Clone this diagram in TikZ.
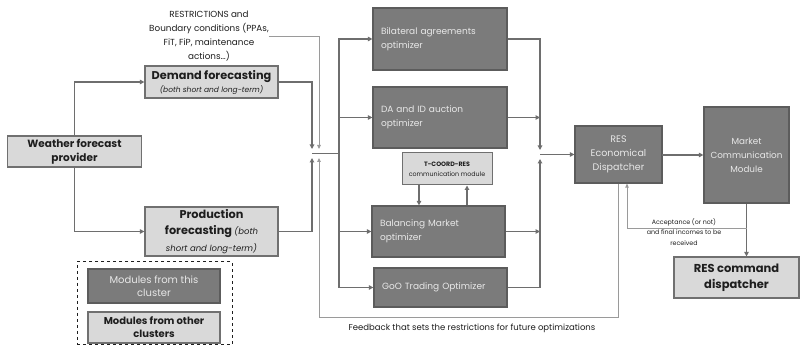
\documentclass[tikz,border=0pt]{standalone}
\usepackage{fontspec}
\setmainfont{Poppins}
\usetikzlibrary{arrows.meta}
\definecolor{darkbox}{HTML}{7B7B7B}
\definecolor{darkedge}{HTML}{5C5C5C}
\definecolor{lightbox}{HTML}{D9D9D9}
\definecolor{lightedge}{HTML}{707070}
\definecolor{boxtext}{HTML}{E8E8E8}
\definecolor{linecol}{HTML}{6E6E6E}
\definecolor{thincol}{HTML}{9A9A9A}
\definecolor{inktext}{HTML}{1E1E1E}
\tikzset{
  darkmod/.style={draw=darkedge, line width=1.2pt, fill=darkbox, text=boxtext, inner sep=0pt},
  lightmod/.style={draw=lightedge, line width=1.2pt, fill=lightbox, text=inktext, inner sep=0pt, align=center},
  conn/.style={draw=linecol, line width=1.8pt},
  thinconn/.style={draw=thincol, line width=0.9pt},
  tip/.style={-{Triangle[length=4.5pt,width=4.5pt]}},
  thintip/.style={-{Triangle[length=4pt,width=3.5pt]}},
  plain/.style={inner sep=0pt, align=center, text=inktext},
}
\begin{document}
\begin{tikzpicture}[x=1pt,y=-1pt]
\useasboundingbox[fill=white] (0,0) rectangle (801,347);

% left side
\node[lightmod, minimum width=134pt, minimum height=31pt, font=\fontsize{10.5}{14}\selectfont\bfseries] (weather) at (74.5,151.5)
  {Weather forecast\\ provider};
\node[lightmod, minimum width=133pt, minimum height=32pt, font=\fontsize{11.3}{14}\selectfont\bfseries] (demand) at (211.5,82)
  {Demand forecasting\\[-1pt]
   {\fontsize{7.5}{9}\selectfont\mdseries\itshape (both short and long-term)}};
\node[lightmod, minimum width=133pt, minimum height=49pt, font=\fontsize{11.3}{16.5}\selectfont\bfseries] (production) at (211.5,231.5)
  {Production\\
   forecasting {\fontsize{8.5}{10}\selectfont\mdseries\itshape (both}\\
   {\fontsize{8.5}{10}\selectfont\mdseries\itshape short and long-term)}};
\node[plain, font=\fontsize{8.8}{14}\selectfont] (rest) at (209,36)
  {RESTRICTIONS and\\ Boundary conditions (PPAs,\\ FiT, FiP, maintenance\\ actions\dots)};

% legend
\node[draw=inktext, dashed, line width=1pt, minimum width=155pt, minimum height=83pt, inner sep=0pt] (legend) at (154.5,303.5) {};
\node[darkmod, align=center, minimum width=132pt, minimum height=34pt, font=\fontsize{10}{13}\selectfont] (legdark) at (154,286)
  {Modules from this\\ cluster};
\node[lightmod, minimum width=132pt, minimum height=31pt, font=\fontsize{10}{13}\selectfont\bfseries] (leglight) at (154,327.5)
  {Modules from other\\ clusters};

% optimizers
\node[darkmod, minimum width=134pt, minimum height=62pt, text width=118pt, align=left, font=\fontsize{9}{14}\selectfont] (bilat) at (440,39)
  {Bilateral agreements\\ optimizer};
\node[darkmod, minimum width=134pt, minimum height=61pt, text width=118pt, align=left, font=\fontsize{9}{14}\selectfont] (da) at (440,117.5)
  {DA and ID auction\\ optimizer};
\node[lightmod, line width=1pt, minimum width=90pt, minimum height=32pt, font=\fontsize{6.3}{10}\selectfont] (tcoord) at (447,169)
  {\textbf{T-COORD-RES}\\ communication module};
\node[darkmod, minimum width=133pt, minimum height=51pt, text width=117pt, align=left, font=\fontsize{9}{14}\selectfont] (balance) at (438.5,231.5)
  {Balancing Market\\ optimizer\\[4pt]};
\node[darkmod, minimum width=133pt, minimum height=39pt, text width=117pt, align=left, font=\fontsize{9}{14}\selectfont] (goo) at (440.5,287.5)
  {GoO Trading Optimizer\\[4pt]};

% right side
\node[darkmod, align=center, minimum width=87pt, minimum height=57pt, font=\fontsize{9.5}{14}\selectfont] (econ) at (618.5,154.5)
  {RES\\ Economical\\ Dispatcher};
\node[darkmod, align=center, minimum width=85pt, minimum height=96pt, font=\fontsize{8.8}{14}\selectfont] (market) at (746.5,155)
  {Market\\ Communication\\ Module};
\node[lightmod, minimum width=125pt, minimum height=41pt, font=\fontsize{11.5}{16}\selectfont\bfseries] (command) at (736.5,277.5)
  {RES command\\ dispatcher};
\node[plain, font=\fontsize{6.3}{10.5}\selectfont] (acctext) at (684,232)
  {Acceptance (or not)\\ and final incomes to be\\ received};
\node[plain, font=\fontsize{8.5}{10}\selectfont] (fbtext) at (472,328)
  {Feedback that sets the restrictions for future optimizations};

% junction coordinates
\coordinate (jdem) at (312,149);
\coordinate (jpro) at (312,158);
\coordinate (jres) at (319,149);
\coordinate (jfb) at (319,158);
\coordinate (jm) at (312,153.5);
\coordinate (bm) at (339,153.5);
\coordinate (rtop) at (540,150);
\coordinate (rbot) at (540,159);
\coordinate (rm) at (540,154.5);
\coordinate (fbc) at (319,317);
\coordinate (acc) at (746.5,228);

% connectors left
\draw[conn, tip] (weather.north) |- (demand.west);
\draw[conn, tip] (weather.south) |- (production.west);
\draw[conn, tip] (demand.east) -| (jdem);
\draw[conn, tip] (production.east) -| (jpro);
\draw[thinconn, thintip] (rest.east) -| (jres);
\draw[thinconn, thintip] (econ.south) |- (fbc) -- (jfb);
\draw[conn] (jm) -- (bm);
\draw[conn, tip] (bm) |- (bilat.west);
\draw[conn, tip] (bm) |- (da.west);
\draw[conn, tip] (bm) |- (balance.west);
\draw[conn, tip] (bm) |- (goo.west);

% T-COORD
\draw[conn, tip] ([xshift=-28pt]tcoord.south) -- ([xshift=-28pt]tcoord.south |- balance.north);
\draw[conn, tip] ([xshift=20pt]tcoord.south |- balance.north) -- ([xshift=20pt]tcoord.south);

% connectors right
\draw[conn, tip] (bilat.east) -| (rtop);
\draw[conn, tip] (goo.east) -| (rbot);
\draw[conn, tip] (da.east) -- (da.east -| rm);
\draw[conn, tip] (balance.east) -- (balance.east -| rm);
\draw[conn, tip] (rm) -- (econ.west);
\draw[conn, tip] (econ.east) -- (econ.east |- market.west) -- (market.west);
\draw[conn, tip] (market.south) -- (market.south |- command.north);
\draw[thinconn, thintip] (acc) -| ([xshift=8.5pt]econ.south);
\end{tikzpicture}
\end{document}
